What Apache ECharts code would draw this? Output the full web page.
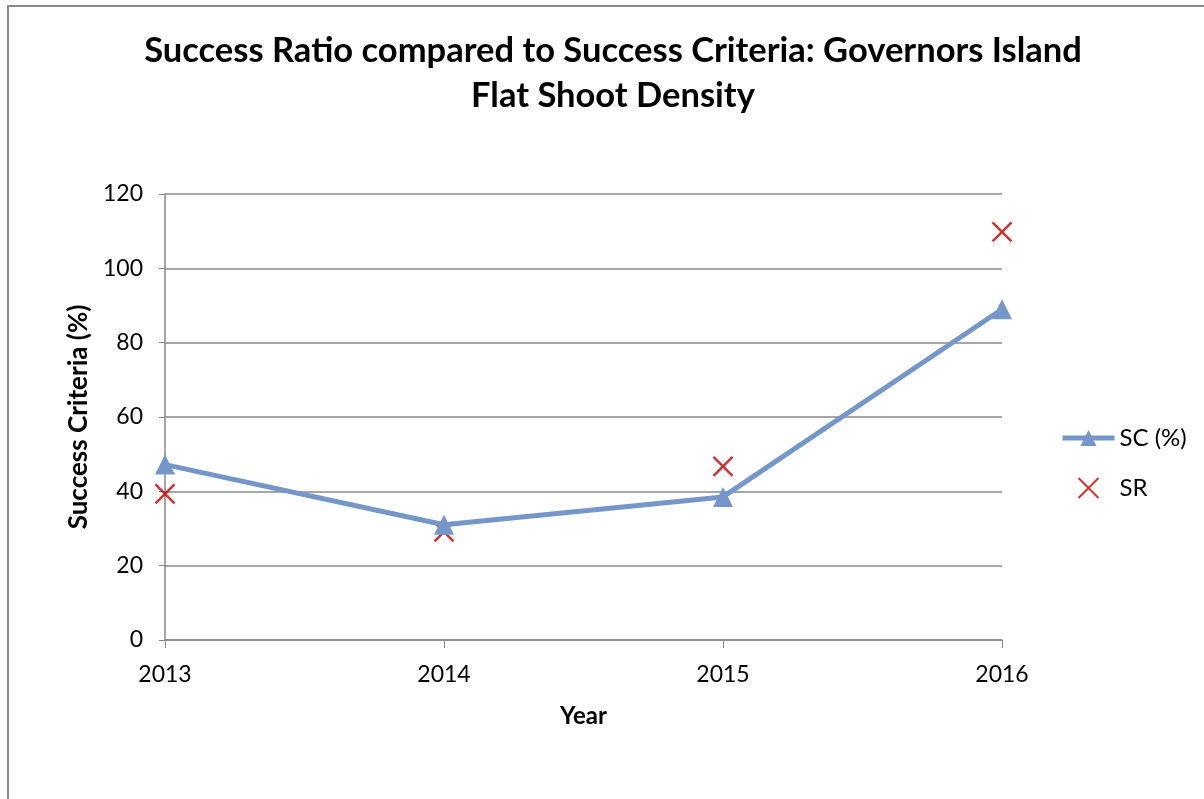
<!DOCTYPE html>
<html>
<head>
<meta charset="utf-8">
<script src="https://cdn.jsdelivr.net/npm/echarts@6/dist/echarts.min.js"></script>
<style>
  html, body { margin: 0; padding: 0; background: #fff; }
  #frame { position: absolute; left: 7px; top: 5px; width: 1210px; height: 810px; border: 2px solid #8a8a8a; box-sizing: border-box; }
  #chart { position: absolute; left: 0; top: 0; width: 1204px; height: 799px; }
</style>
</head>
<body>
<div id="frame"></div>
<div id="chart"></div>
<script>
// chart data
const years = ['2013', '2014', '2015', '2016'];
const scValues = [47.2, 31, 38.5, 89];
const srValues = [39.3, 29.1, 46.7, 109.8];
const yTicks = { min: 0, max: 120, interval: 20 };

const font = 'Lato, "Open Sans", sans-serif';
const axisGray = '#888888';
const blue = '#7596c9';

const chart = echarts.init(document.getElementById('chart'));
chart.setOption({
    animation: false,
    title: {
        text: 'Success Ratio compared to Success Criteria: Governors Island\nFlat Shoot Density',
        left: 608,
        textAlign: 'center',
        top: 23,
        textStyle: { fontFamily: font, fontSize: 34.5, fontWeight: 'bold', color: '#000', lineHeight: 45 }
    },
    grid: { left: 165, right: 202, top: 194, bottom: 159 },
    legend: {
        orient: 'vertical',
        left: 1055,
        top: 421,
        itemGap: 26,
        itemWidth: 52,
        itemHeight: 20,
        textStyle: { fontFamily: font, fontSize: 24, color: '#000' },
        data: [
            { name: 'SC (%)', lineStyle: { width: 5, color: blue } },
            { name: 'SR' }
        ]
    },
    xAxis: {
        type: 'category',
        data: years,
        boundaryGap: false,
        name: 'Year',
        nameLocation: 'middle',
        nameGap: 64,
        nameTextStyle: { fontFamily: font, fontSize: 24, fontWeight: 'bold', color: '#000' },
        axisLine: { lineStyle: { color: axisGray, width: 1.5 } },
        axisTick: { show: true, length: 8, lineStyle: { color: axisGray } },
        axisLabel: { fontFamily: font, fontSize: 23, color: '#000', margin: 23 }
    },
    yAxis: {
        type: 'value',
        min: yTicks.min,
        max: yTicks.max,
        interval: yTicks.interval,
        name: 'Success Criteria (%)',
        nameLocation: 'middle',
        nameGap: 72,
        nameTextStyle: { fontFamily: font, fontSize: 26, fontWeight: 'bold', color: '#000' },
        axisLine: { show: true, lineStyle: { color: axisGray, width: 1.5 } },
        axisTick: { show: true, length: 6, lineStyle: { color: axisGray } },
        axisLabel: { fontFamily: font, fontSize: 23, color: '#000', margin: 22 },
        splitLine: { lineStyle: { color: axisGray, width: 1.5 } }
    },
    series: [
        {
            name: 'SC (%)',
            type: 'line',
            data: scValues,
            symbol: 'triangle',
            symbolSize: 20,
            showAllSymbol: true,
            lineStyle: { color: blue, width: 5 },
            itemStyle: { color: blue }
        },
        {
            name: 'SR',
            type: 'scatter',
            data: srValues,
            symbol: 'path://M0,0L10,10M10,0L0,10',
            symbolSize: 19,
            itemStyle: { color: 'transparent', borderColor: '#c00000', borderWidth: 2.5 }
        }
    ]
});
</script>
</body>
</html>
